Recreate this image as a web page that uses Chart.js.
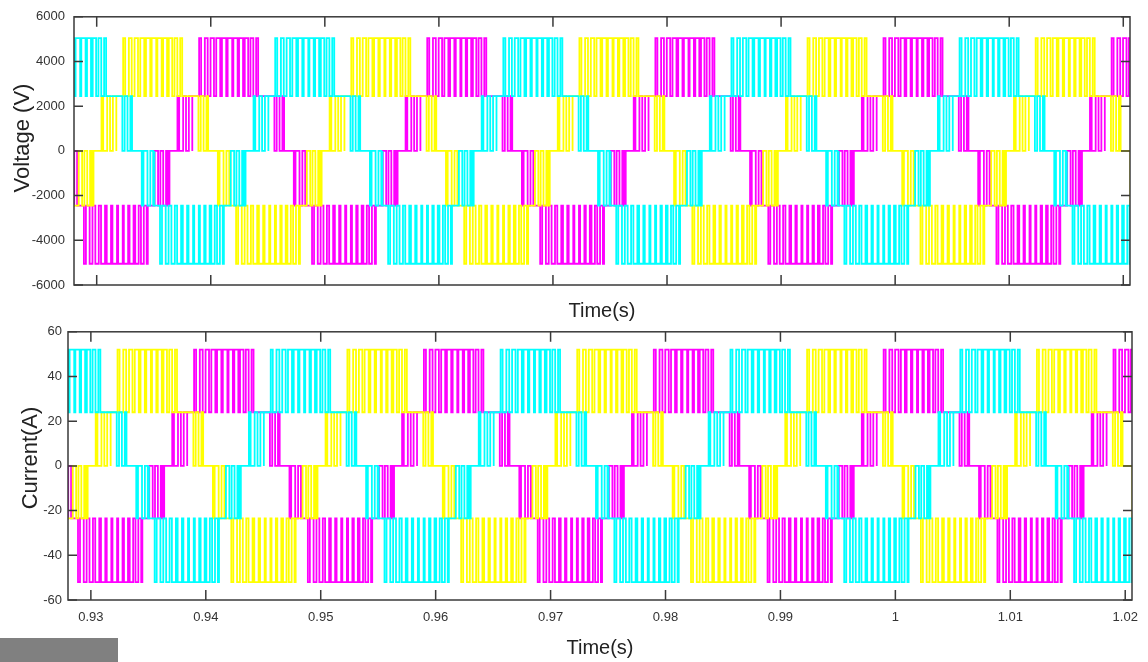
<!DOCTYPE html>
<html>
<head>
<meta charset="utf-8">
<script src="https://cdn.jsdelivr.net/npm/chart.js@4.4.0/dist/chart.umd.min.js"></script>
<style>
  html, body { margin: 0; padding: 0; background: #fff; }
  #wrap { position: relative; width: 1148px; height: 662px; overflow: hidden; }
  #vbox { position: absolute; left: 0; top: 0; }
  #ibox { position: absolute; left: 0; top: 318px; }
  #grey { position: absolute; left: 0; top: 638px; width: 118px; height: 24px; background: #808080; }
</style>
</head>
<body>
<div id="wrap">
  <div id="vbox"><canvas id="voltChart" width="1148" height="326"></canvas></div>
  <div id="ibox"><canvas id="currChart" width="1148" height="344"></canvas></div>
  <div id="grey"></div>
</div>
<script>
// levels of the 5-level waveform (index 0..4)
var voltLevels = [-5050, -2450, 0, 2450, 5050];
var currLevels = [-52, -23.5, 0, 24, 52];

// one 20 ms period of a phase, ms from the start of its positive band
var segEnd  = [5.5, 6.3, 7.6, 8.3, 9.4, 9.9, 15.5, 16.1, 17.4, 18.1, 19.4, 20.0];
var segBase = [3, 3, 2, 2, 2, 1, 1, 1, 1, 2, 2, 3];
var segPeak = [4, 3, 3, 2, 1, 1, 0, 1, 2, 2, 3, 3];
var segDuty = [
  [0.35, 0.5, 0.6, 0.7, 0.75, 0.8, 0.75, 0.7, 0.6, 0.5, 0.35],
  null,
  [0.6, 0.5, 0.3],
  null,
  [0.3, 0.5, 0.6],
  null,
  [0.35, 0.5, 0.6, 0.7, 0.75, 0.8, 0.8, 0.75, 0.7, 0.6, 0.5, 0.35],
  null,
  [0.6, 0.5, 0.3],
  null,
  [0.3, 0.5, 0.6],
  null
];
var pulsePeriod = 0.5; // ms between switching pulses

// start of each phase's positive band (ms)
var phaseStart = [925.65, 932.32, 938.98];
var phaseColor = ['#00ffff', '#ffff00', '#ff00ff'];

var xTicks = [0.93, 0.94, 0.95, 0.96, 0.97, 0.98, 0.99, 1.00, 1.01, 1.02];
var voltTicks = [-6000, -4000, -2000, 0, 2000, 4000, 6000];
var currTicks = [-60, -40, -20, 0, 20, 40, 60];

function buildPhase(start, levels) {
  var pts = [];
  for (var p = start - 20; p < 1040; p += 20) {
    for (var s = 0; s < segEnd.length; s++) {
      var a = p + (s === 0 ? 0 : segEnd[s - 1]);
      var b = p + segEnd[s];
      var base = levels[segBase[s]], peak = levels[segPeak[s]];
      if (!segDuty[s]) { pts.push({x: a / 1000, y: base}); continue; }
      var k = 0;
      for (var t = a; t < b - 1e-9; t += pulsePeriod, k++) {
        var d = segDuty[s][Math.min(k, segDuty[s].length - 1)];
        pts.push({x: t / 1000, y: peak});
        pts.push({x: Math.min(t + pulsePeriod * d, b) / 1000, y: base});
      }
    }
  }
  return pts;
}

var boxPlugin = {
  id: 'box',
  afterDatasetsDraw: function(chart) {
    var ctx = chart.ctx, a = chart.chartArea, x = chart.scales.x, y = chart.scales.y;
    ctx.save();
    ctx.strokeStyle = '#3a3a3a';
    ctx.lineWidth = 1.5;
    ctx.strokeRect(a.left, a.top, a.right - a.left, a.bottom - a.top);
    ctx.beginPath();
    xTicks.forEach(function(v) {
      var px = x.getPixelForValue(v);
      ctx.moveTo(px, a.bottom); ctx.lineTo(px, a.bottom - 10);
      ctx.moveTo(px, a.top); ctx.lineTo(px, a.top + 10);
    });
    y.ticks.forEach(function(t) {
      var py = y.getPixelForValue(t.value);
      ctx.moveTo(a.left, py); ctx.lineTo(a.left + 9, py);
      ctx.moveTo(a.right, py); ctx.lineTo(a.right - 9, py);
    });
    ctx.stroke();
    ctx.restore();
  }
};

var yTitlePlugin = {
  id: 'yTitle',
  afterDraw: function(chart, args, opts) {
    var ctx = chart.ctx;
    ctx.save();
    ctx.translate(opts.x, opts.y);
    ctx.rotate(-Math.PI / 2);
    ctx.font = '22px "Liberation Sans", Arial, sans-serif';
    ctx.fillStyle = '#222';
    ctx.textAlign = 'center';
    ctx.textBaseline = 'middle';
    ctx.fillText(opts.text, 0, 0);
    ctx.restore();
  }
};

function makeChart(id, levels, ticks, opt) {
  var datasets = phaseStart.map(function(st, i) {
    return {
      data: buildPhase(st, levels),
      borderColor: phaseColor[i],
      borderWidth: 1.8,
      pointRadius: 0,
      stepped: true,
      fill: false
    };
  });
  return new Chart(document.getElementById(id), {
    type: 'line',
    data: { datasets: datasets },
    options: {
      responsive: false,
      animation: false,
      events: [],
      layout: { padding: opt.padding },
      plugins: {
        legend: { display: false },
        tooltip: { enabled: false },
        yTitle: { text: opt.yTitle, x: opt.yTitleX, y: opt.yTitleY }
      },
      scales: {
        x: {
          type: 'linear',
          min: 0.92801,
          max: 1.02059,
          afterBuildTicks: function(s) { s.ticks = xTicks.map(function(v) { return {value: v}; }); },
          ticks: {
            display: opt.xLabels,
            padding: 10,
            maxRotation: 0,
            autoSkip: false,
            color: '#333',
            font: { family: '"Liberation Sans", Arial, sans-serif', size: 13 },
            callback: function(v) { return String(+v.toFixed(2)); }
          },
          grid: { display: false, drawTicks: false },
          border: { display: false },
          title: {
            display: true,
            text: 'Time(s)',
            color: '#222',
            padding: { top: 0, bottom: opt.xTitlePad },
            font: { family: '"Liberation Sans", Arial, sans-serif', size: 20 }
          },
          afterFit: function(s) { s.height = opt.xHeight; }
        },
        y: {
          min: ticks[0],
          max: ticks[ticks.length - 1],
          afterBuildTicks: function(s) { s.ticks = ticks.map(function(v) { return {value: v}; }); },
          ticks: {
            padding: opt.yPad,
            color: '#333',
            font: { family: '"Liberation Sans", Arial, sans-serif', size: 13 },
            callback: function(v) { return String(v); }
          },
          grid: { display: false, drawTicks: false },
          border: { display: false },
          afterFit: function(s) { s.width = opt.yWidth; }
        }
      }
    },
    plugins: [boxPlugin, yTitlePlugin]
  });
}

makeChart('voltChart', voltLevels, voltTicks, {
  padding: { left: 0, right: 18, top: 13, bottom: 0 },
  xLabels: false, xHeight: 41, xTitlePad: 3,
  yWidth: 74, yPad: 9,
  yTitle: 'Voltage (V)', yTitleX: 23, yTitleY: 138
});

makeChart('currChart', currLevels, currTicks, {
  padding: { left: 0, right: 16, top: 8, bottom: 0 },
  xLabels: true, xHeight: 62, xTitlePad: 2,
  yWidth: 68, yPad: 6,
  yTitle: 'Current(A)', yTitleX: 31, yTitleY: 140
});
</script>
</body>
</html>
